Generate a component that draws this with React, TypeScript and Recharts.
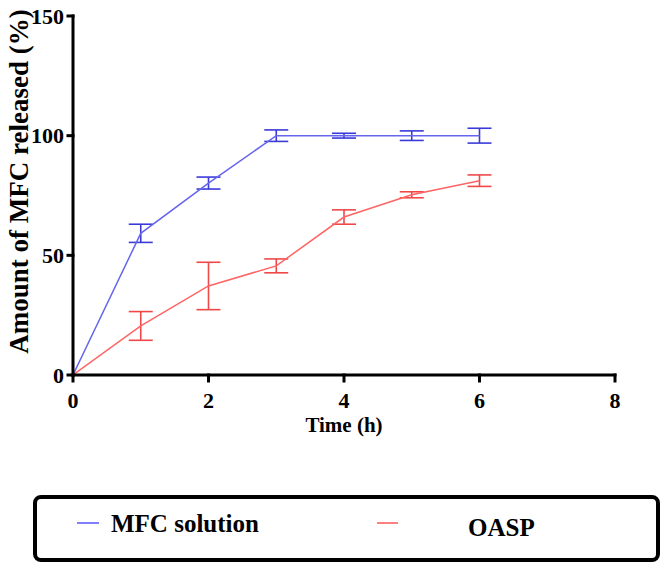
// Drug release profile: MFC solution vs OASP, mean ± SD error bars
import { LineChart, Line, XAxis, YAxis, ErrorBar, Label } from 'recharts';

const times = [0, 1, 2, 3, 4, 5, 6];
const mfcMean = [0, 59.2, 80.2, 100, 100, 100, 100];
const mfcSd = [0, 3.8, 2.5, 2.4, 1, 2, 3.1];
const oaspMean = [0, 20.5, 37.2, 45.6, 66, 75.3, 81.2];
const oaspSd = [0, 6, 9.9, 2.9, 3, 1.25, 2.4];
const xTicks = [0, 2, 4, 6, 8];
const yTicks = [0, 50, 100, 150];

const mfcData = times.map((t, i) => ({ time: t, value: mfcMean[i], sd: mfcSd[i] }));
const oaspData = times.map((t, i) => ({ time: t, value: oaspMean[i], sd: oaspSd[i] }));

const FONT = '"Liberation Serif", "Times New Roman", serif';

const BLUE_LINE = '#6565ee';
const BLUE_BAR = '#3a3ad8';
const RED_LINE = '#ff6464';
const RED_BAR = '#f04848';

const axisStyle = { stroke: '#000', strokeWidth: 3, strokeLinecap: 'square' as const };
const tickFont = { fontFamily: FONT, fontWeight: 700, fontSize: 22, fill: '#000' };

function YTitle(props: any) {
  const vb = props.viewBox || { x: 0, y: 0, height: 0 };
  const cx = 19;
  const cy = vb.y + vb.height / 2 - 14;
  return (
    <text
      x={cx}
      y={cy}
      transform={`rotate(-90 ${cx} ${cy})`}
      textAnchor="middle"
      dominantBaseline="central"
      style={{ fontFamily: FONT, fontWeight: 700, fontSize: 27, fill: '#000' }}
    >
      Amount of MFC released (%)
    </text>
  );
}

export default function App() {
  return (
    <div style={{ position: 'absolute', left: 0, top: 0, width: 670, height: 571, background: '#fff' }}>
      <LineChart width={670} height={470} margin={{ top: 16, right: 55, left: 0, bottom: 35 }}>
        <XAxis
          type="number"
          dataKey="time"
          domain={[0, 8]}
          ticks={xTicks}
          allowDataOverflow
          height={60}
          axisLine={axisStyle}
          tickLine={axisStyle}
          tickSize={6}
          tickMargin={11}
          tick={tickFont}
        >
          <Label
            value="Time (h)"
            position="insideBottom"
            offset={3}
            style={{ fontFamily: FONT, fontWeight: 700, fontSize: 21, fill: '#000' }}
          />
        </XAxis>
        <YAxis
          type="number"
          domain={[0, 150]}
          ticks={yTicks}
          width={73}
          axisLine={axisStyle}
          tickLine={axisStyle}
          tickSize={5}
          tickMargin={4}
          tick={tickFont}
        >
          <Label content={<YTitle />} />
        </YAxis>
        <Line
          data={mfcData}
          dataKey="value"
          type="linear"
          stroke={BLUE_LINE}
          strokeWidth={1.5}
          dot={false}
          isAnimationActive={false}
        >
          <ErrorBar dataKey="sd" direction="y" width={12} stroke={BLUE_BAR} strokeWidth={1.6} isAnimationActive={false} />
        </Line>
        <Line
          data={oaspData}
          dataKey="value"
          type="linear"
          stroke={RED_LINE}
          strokeWidth={1.5}
          dot={false}
          isAnimationActive={false}
        >
          <ErrorBar dataKey="sd" direction="y" width={12} stroke={RED_BAR} strokeWidth={1.6} isAnimationActive={false} />
        </Line>
      </LineChart>

      {/* legend box */}
      <div
        style={{
          position: 'absolute',
          left: 33,
          top: 495,
          width: 627,
          height: 67,
          border: '4px solid #000',
          borderRadius: 8,
          boxSizing: 'border-box',
          fontFamily: FONT,
          fontWeight: 700,
          fontSize: 25,
          color: '#000',
        }}
      >
        <div style={{ position: 'absolute', left: 40, top: 23, width: 22, height: 2, background: '#8080ff' }} />
        <div style={{ position: 'absolute', left: 74, top: 10, lineHeight: '30px', whiteSpace: 'nowrap' }}>MFC solution</div>
        <div style={{ position: 'absolute', left: 340, top: 23, width: 21, height: 2, background: '#ff8080' }} />
        <div style={{ position: 'absolute', left: 431, top: 14, lineHeight: '30px', whiteSpace: 'nowrap' }}>OASP</div>
      </div>
    </div>
  );
}
